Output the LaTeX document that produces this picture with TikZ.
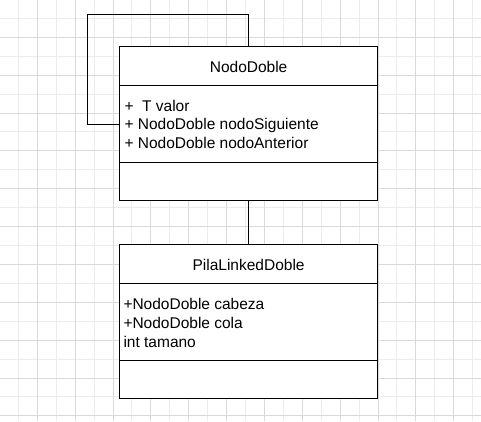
\documentclass[tikz,border=0pt]{standalone}
\usepackage{fontspec}
\setmainfont{Liberation Sans}
\definecolor{gridminor}{gray}{0.925}
\definecolor{gridmajor}{gray}{0.85}
\begin{document}
\begin{tikzpicture}[x=1pt,y=-1pt,
  umlbox/.style={draw=black, fill=white, line width=1pt, rectangle, inner sep=0pt, outer sep=0pt},
  txt/.style={anchor=base west, inner sep=0pt, font=\fontsize{15.5}{18}\selectfont},
  ttl/.style={anchor=base, inner sep=0pt, font=\fontsize{15.5}{18}\selectfont},
  conn/.style={draw=black, line width=1pt},
  divider/.style={draw=black, line width=1pt}]
\useasboundingbox (0,0) rectangle (481,421);
\fill[white] (0,0) rectangle (481,421);
% grid
\foreach \n in {0,2,...,24} {
  \draw[gridminor, line width=1pt] ({18.35+18.93*\n},0) -- ({18.35+18.93*\n},421);
  \draw[gridminor, line width=1pt] (0,{18.35+18.93*\n}) -- (481,{18.35+18.93*\n});
}
\foreach \n in {-1,1,...,23} {
  \draw[gridmajor, line width=1pt] ({18.35+18.93*\n},0) -- ({18.35+18.93*\n},421);
  \draw[gridmajor, line width=1pt] (0,{18.35+18.93*\n}) -- (481,{18.35+18.93*\n});
}
% boxes
\node[umlbox, minimum width=257.5pt, minimum height=153.3pt] (box1) at (248.6,123.35) {};
\node[umlbox, minimum width=257.5pt, minimum height=154pt] (box2) at (248.6,321) {};
\draw[divider] (box1.west |- 0,85.3) -- (box1.east |- 0,85.3);
\draw[divider] (box1.west |- 0,162.7) -- (box1.east |- 0,162.7);
\draw[divider] (box2.west |- 0,283.3) -- (box2.east |- 0,283.3);
\draw[divider] (box2.west |- 0,360.3) -- (box2.east |- 0,360.3);
% texts
\node[ttl] (t1) at (248.6,72.3) {NodoDoble};
\node[txt] (a11) at (124.3,111) {+\ \ T valor};
\node[txt] (a12) at (124.3,129.6) {+ NodoDoble nodoSiguiente};
\node[txt] (a13) at (124.3,148.5) {+ NodoDoble nodoAnterior};
\node[ttl] (t2) at (248.6,270) {PilaLinkedDoble};
\node[txt] (a21) at (123.3,309.3) {+NodoDoble cabeza};
\node[txt] (a22) at (123.3,328.3) {+NodoDoble cola};
\node[txt] (a23) at (123.3,347.3) {int tamano};
% connectors
\coordinate (loopTL) at (87.3,14.3);
\coordinate (loopEnd) at (box1.west |- 0,124);
\draw[conn] (box1.north) |- (loopTL) |- (loopEnd);
\draw[conn] (box1.south) -- (box2.north);
\end{tikzpicture}
\end{document}
